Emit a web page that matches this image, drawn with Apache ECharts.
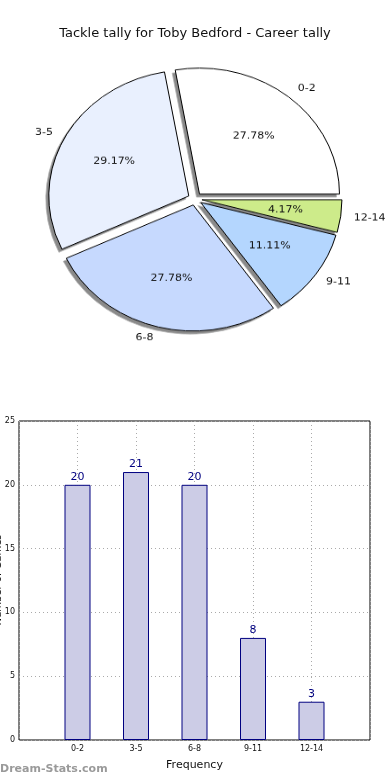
<!DOCTYPE html>
<html><head><meta charset="utf-8">
<script src="https://cdn.jsdelivr.net/npm/echarts@6/dist/echarts.min.js"></script>
<style>
html,body{margin:0;padding:0;background:#fff;}
#main{position:absolute;left:0;top:0;width:390px;height:780px;}
#pie{position:absolute;left:0;top:0;width:390px;height:440px;transform:scaleY(0.9);transform-origin:0 0;}
</style></head>
<body>
<div id="main"></div>
<div id="pie"></div>
<script>
const titleText = 'Tackle tally for Toby Bedford - Career tally';
const categories = ['0-2', '3-5', '6-8', '9-11', '12-14'];
const counts = [20, 21, 20, 8, 3];
const sliceColors = ['#ffffff', '#e9f0fe', '#c6d9fe', '#b4d6fe', '#cdeb8a'];
const yTicks = [0, 5, 10, 15, 20, 25];
const xLabelText = 'Frequency';
const yLabelText = 'Number of Games';
const watermark = 'Dream-Stats.com';

const total = counts.reduce((a, b) => a + b, 0);
const FONT = 'DejaVu Sans';

// ---- main chart: title, bar chart, watermark
const main = echarts.init(document.getElementById('main'), null, {renderer: 'canvas'});
main.setOption({
  animation: false,
  title: {text: titleText, left: 'center', top: 22,
    textStyle: {fontFamily: FONT, fontSize: 13, fontWeight: 'normal', color: '#111'}},
  grid: {left: 19, top: 421, width: 351, height: 319, containLabel: false, outerBoundsMode: 'none',
    show: true, borderColor: '#000', borderWidth: 1, backgroundColor: 'transparent'},
  xAxis: {type: 'value', min: -1, max: 5, interval: 1,
    axisLine: {show: false}, axisTick: {show: false},
    axisLabel: {formatter: v => (categories[v] !== undefined ? categories[v] : ''), fontFamily: FONT, fontSize: 8, color: '#111', margin: 5},
    splitLine: {show: true, lineStyle: {type: [1, 3], color: '#aaa', width: 1}},
    name: xLabelText, nameLocation: 'middle', nameGap: 20,
    nameTextStyle: {fontFamily: FONT, fontSize: 11, color: '#111'}},
  yAxis: {type: 'value', min: yTicks[0], max: yTicks[yTicks.length - 1], interval: yTicks[1] - yTicks[0],
    axisLine: {show: false}, axisTick: {show: false},
    axisLabel: {fontFamily: FONT, fontSize: 8, color: '#111', margin: 4},
    splitLine: {show: true, lineStyle: {type: [1, 3], color: '#aaa', width: 1}}},
  series: [{
    type: 'bar', barWidth: 26,
    data: counts.map((v, i) => [i, v]),
    itemStyle: {color: '#ccccE6', borderColor: '#000080', borderWidth: 1},
    label: {show: true, position: 'top', distance: 2, fontFamily: FONT, fontSize: 11, color: '#000080',
      formatter: p => p.value[1]}
  }],
  graphic: [
    {type: 'text', left: 0, top: 764,
      style: {text: watermark, font: 'bold 11px "DejaVu Sans"', fill: '#9a9a9a'}},
    {type: 'text', x: -2, y: 580, rotation: Math.PI / 2,
      style: {text: yLabelText, font: '10px "DejaVu Sans"', fill: '#111', align: 'center', verticalAlign: 'middle'}}
  ]
});

// ---- pie chart (drawn in a vertically squashed layer to give the elliptical pie)
const pie = echarts.init(document.getElementById('pie'), null, {renderer: 'canvas'});
const R = 140, CX = 195, CY = 221, OFF = 7;
const pieData = categories.map((c, i) => ({name: c, value: counts[i], selected: true,
  itemStyle: {color: sliceColors[i]}}));
const plain = () => categories.map((c, i) => ({name: c, value: counts[i], selected: true}));
const base = {type: 'pie', startAngle: 0, clockwise: false,
  selectedMode: 'multiple', selectedOffset: OFF, avoidLabelOverlap: false, emphasis: {disabled: true}, silent: true};
pie.setOption({
  animation: false,
  series: [
    // shadow layer
    Object.assign({}, base, {
      center: [CX - 3, CY + 3.4], radius: [0, R],
      data: plain(),
      itemStyle: {color: '#8a8a8a', borderColor: '#b5b5b5', borderWidth: 0.8},
      label: {show: false}, labelLine: {show: false}
    }),
    Object.assign({}, base, {
      center: [CX, CY], radius: [0, R],
      data: pieData,
      itemStyle: {borderColor: '#000', borderWidth: 1},
      label: {show: false}, labelLine: {show: false}
    }),
    Object.assign({}, base, {
      center: [CX, CY], radius: [0.16 * R, R],
      data: plain(),
      itemStyle: {color: 'rgba(0,0,0,0)', borderWidth: 0},
      label: {show: true, position: 'inside', fontFamily: FONT, fontSize: 11, color: '#111',
        formatter: p => (p.value / total * 100).toFixed(2) + '%'},
      labelLine: {show: false}
    }),
    Object.assign({}, base, {
      center: [CX, CY], radius: [0, R],
      data: plain(),
      itemStyle: {color: 'rgba(0,0,0,0)', borderWidth: 0},
      label: {show: true, position: 'outside', fontFamily: FONT, fontSize: 11, color: '#111',
        formatter: p => p.name, distanceToLabelLine: 0},
      labelLine: {show: false, length: 13, length2: 0}
    })
  ]
});
</script>
</body></html>
